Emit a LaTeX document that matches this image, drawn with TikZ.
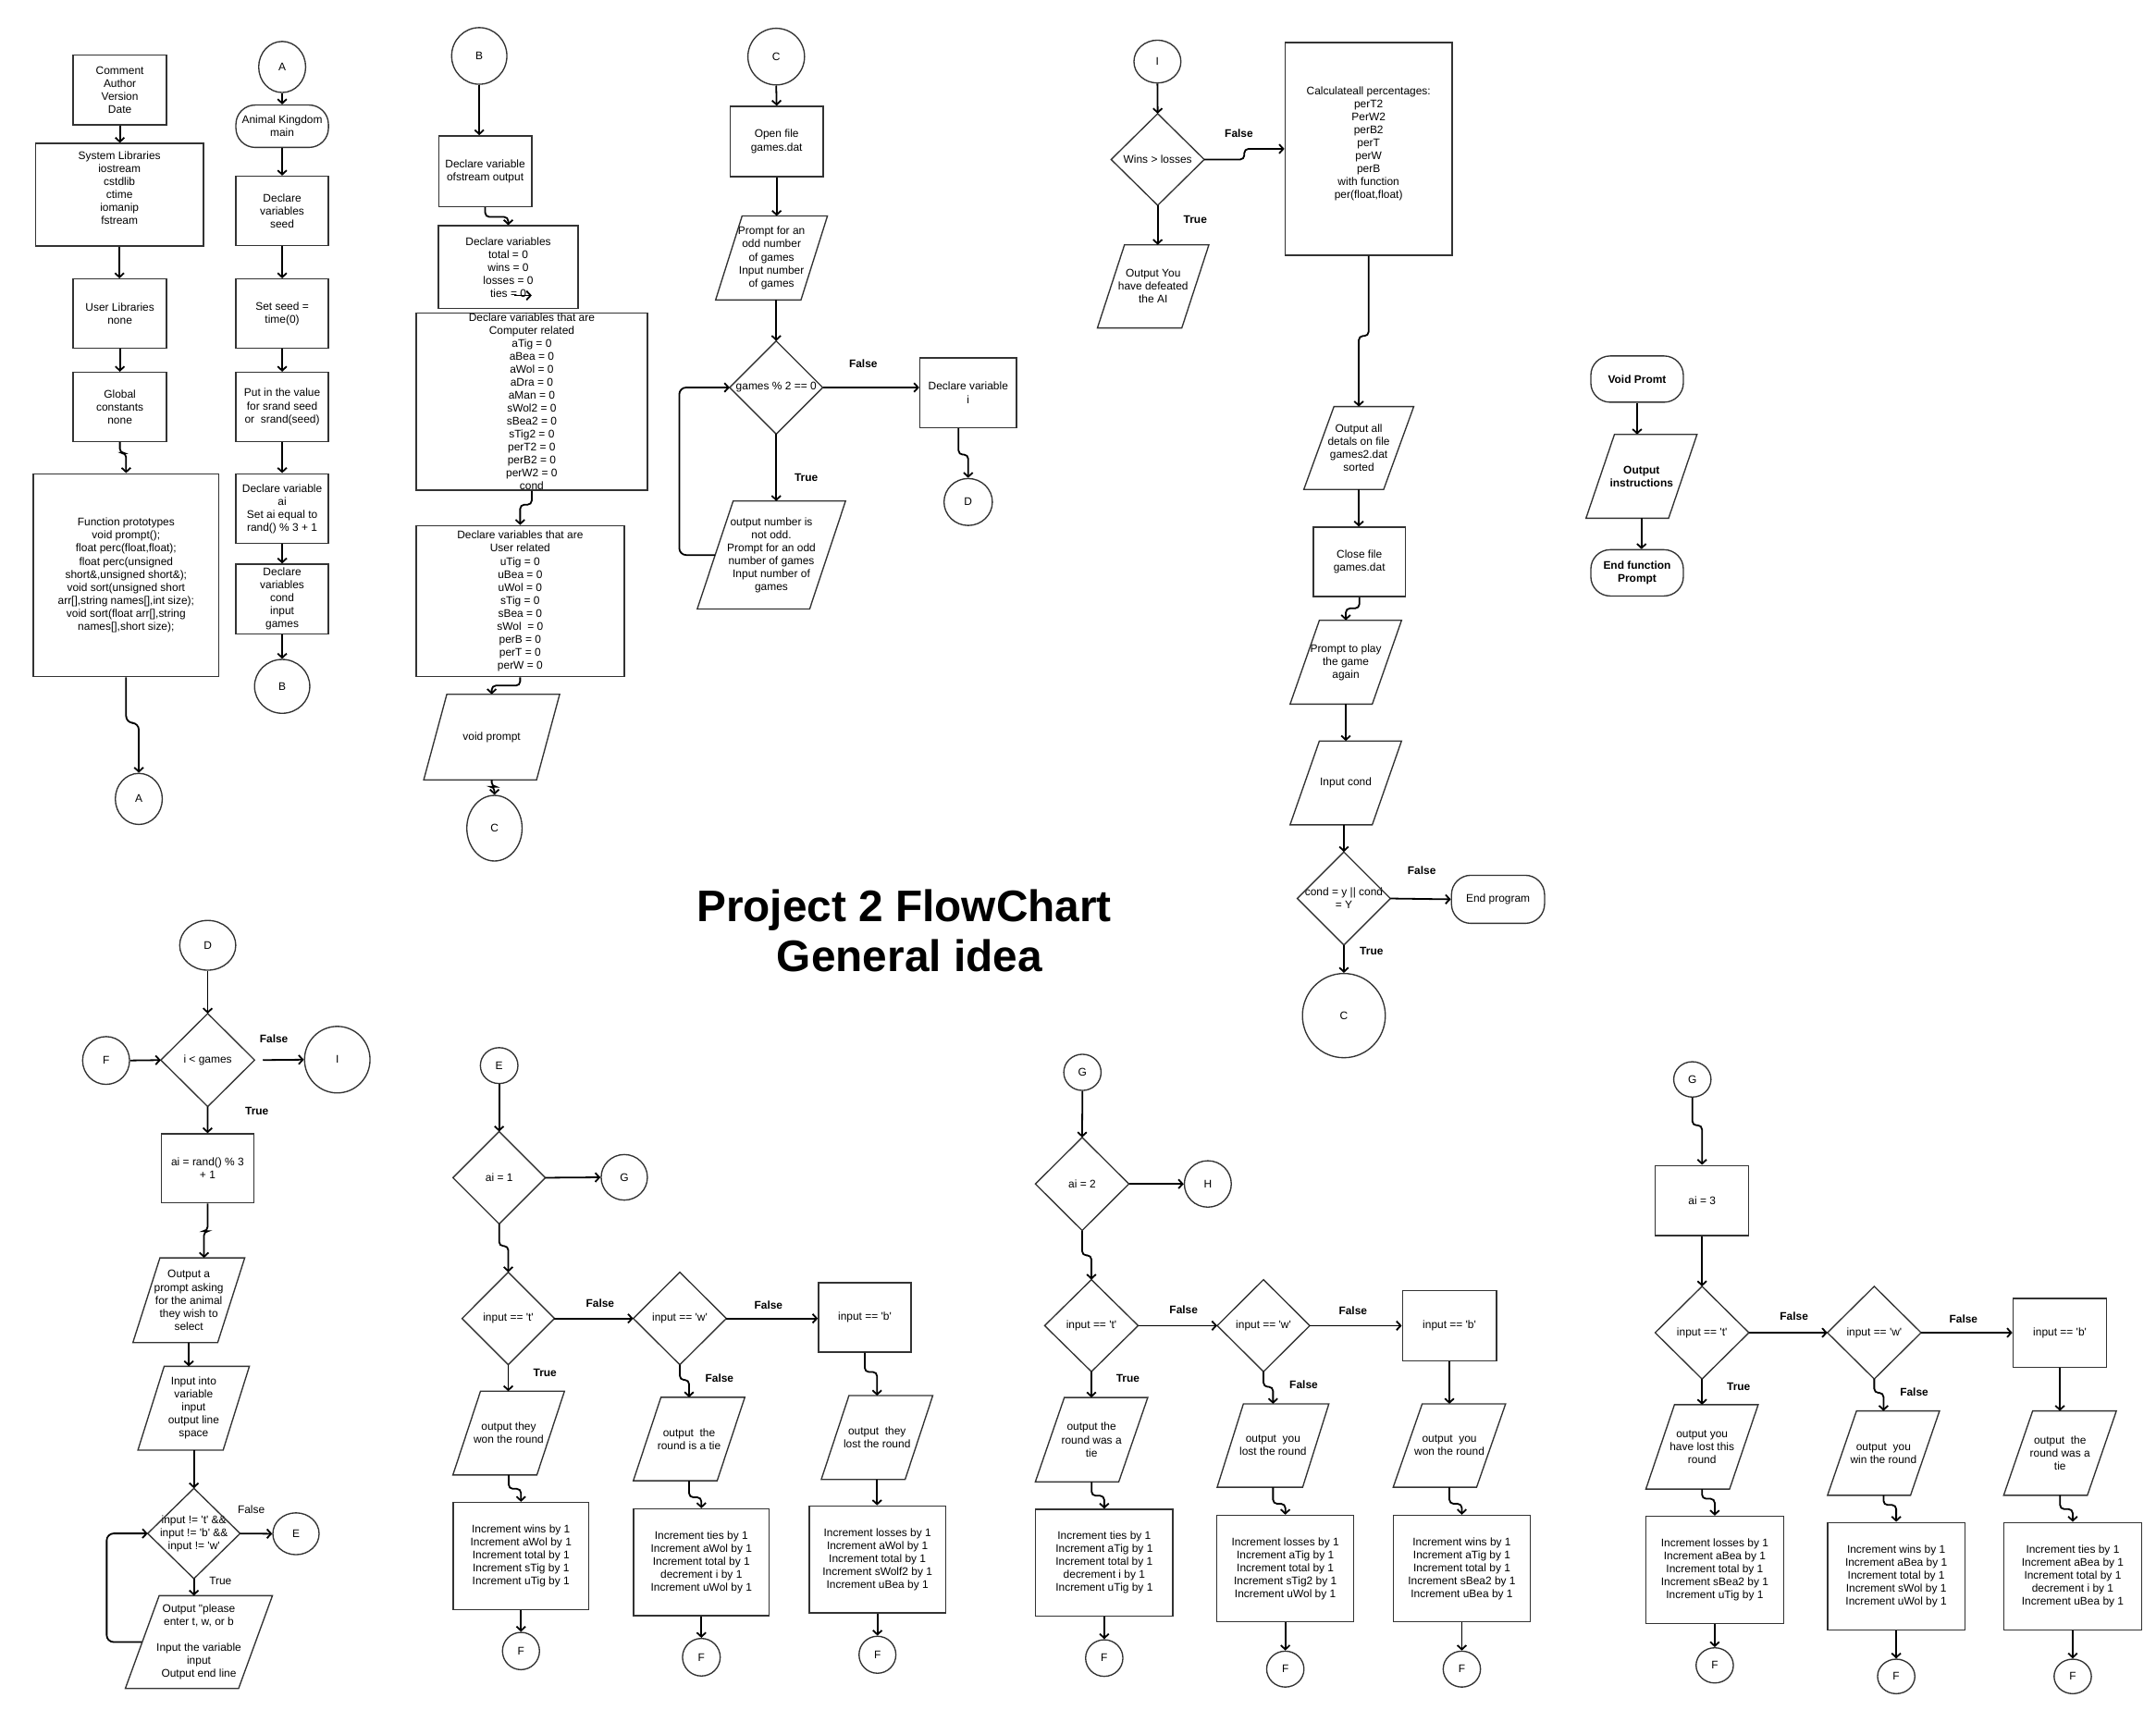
\documentclass[tikz,border=0pt]{standalone}
\usepackage{fontspec}
\setmainfont{Liberation Sans}
\usetikzlibrary{shapes.geometric,arrows.meta}
\definecolor{bordc}{HTML}{333333}
\newcommand\sq{\textquotesingle}
\newcommand\drawpara[2]{\draw[shapeline] ([xshift=#2]#1.north west) -- (#1.north east) -- ([xshift=-#2]#1.south east) -- (#1.south west) -- cycle;}
\newcommand\drawdia[1]{\draw[shapeline] (#1.north) -- (#1.east) -- (#1.south) -- (#1.west) -- cycle;}
\tikzset{
  txt/.style={font=\fontsize{8}{9.4}\selectfont, align=center, inner sep=0pt, text=black},
  shapeline/.style={draw=bordc, line width=0.9pt, line join=miter},
  box/.style={txt, rectangle, shapeline},
  term/.style={box, rounded corners=14pt},
  circ/.style={txt, ellipse, shapeline},
  ghost/.style={txt, rectangle},
  conn/.style={draw=black, line width=1.2pt, -{Straight Barb[length=3pt,width=6.5pt]}},
  wig/.style={conn, rounded corners=3pt},
  lab/.style={font=\fontsize{8}{9.4}\selectfont\bfseries, inner sep=0pt},
  labn/.style={font=\fontsize{8}{9.4}\selectfont, inner sep=0pt},
  bold/.style={font=\fontsize{8}{9.4}\selectfont\bfseries},
  sz/.style 2 args={minimum width=#1, minimum height=#2},
}
\begin{document}
\begin{tikzpicture}[x=1pt,y=-1pt]
\fill[white] (0,0) rectangle (1561,1238.2);
\useasboundingbox (0,0) rectangle (1561,1238.2);

% ---------- column 1
\node[box, sz={67.6}{50.4}] (com) at (86.8,65.1) {Comment\\Author\\Version\\Date};
\node[box, sz={121.6}{74.2}] (sys) at (86.5,141) {System Libraries\\iostream\\cstdlib\\ctime\\iomanip\\fstream\\\mbox{}};
\node[box, sz={67.6}{50}] (ulib) at (86.8,227) {User Libraries\\none};
\node[box, sz={67.6}{50}] (glob) at (86.8,294.6) {Global\\constants\\none};
\node[box, sz={134.4}{147}] (fpro) at (91.3,416.5) {Function prototypes\\void prompt();\\float perc(float,float);\\float perc(unsigned\\short\&,unsigned short\&);\\void sort(unsigned short\\arr[],string names[],int size);\\void sort(float arr[],string\\names[],short size);};
\node[circ, sz={34}{37}] (A1) at (100.5,578.5) {A};

% ---------- column 2
\node[circ, sz={34}{37}] (A2) at (204.3,48.5) {A};
\node[term, sz={67}{30.7}] (akm) at (204.3,91.4) {Animal Kingdom\\main};
\node[box, sz={67}{50.4}] (seed) at (204.3,152.8) {Declare\\variables\\seed};
\node[box, sz={67}{50}] (sseed) at (204.3,227) {Set seed =\\time(0)};
\node[box, sz={67}{50}] (srnd) at (204.3,294.6) {Put in the value\\for srand seed\\or\ \ srand(seed)};
\node[box, sz={67}{50.6}] (aid) at (204.3,368.3) {Declare variable\\ai\\Set ai equal to\\rand() \% 3 + 1};
\node[box, sz={67}{50.6}] (cdecl) at (204.3,433.8) {Declare\\variables\\cond\\input\\games};
\node[circ, sz={40}{39}] (B1) at (204.3,497) {B};

% ---------- column 3
\node[circ, sz={40}{41}] (B2) at (347,40.5) {B};
\node[box, sz={67.4}{51.3}] (ofs) at (351.3,124) {Declare variable\\ofstream output};
\node[box, sz={101}{60}] (tot) at (368,193.5) {Declare variables\\total = 0\\wins = 0\\losses = 0\\ties = 0};
\node[box, sz={167.5}{128.4}] (comp) at (385,290.8) {Declare variables that are\\Computer related\\aTig = 0\\aBea = 0\\aWol = 0\\aDra = 0\\aMan = 0\\sWol2 = 0\\sBea2 = 0\\sTig2 = 0\\perT2 = 0\\perB2 = 0\\perW2 = 0\\cond};
\node[box, sz={150.7}{109.4}] (usr) at (376.6,435.3) {Declare variables that are\\User related\\uTig = 0\\uBea = 0\\uWol = 0\\sTig = 0\\sBea = 0\\sWol\ \ = 0\\perB = 0\\perT = 0\\perW = 0};
\node[ghost, sz={98}{61.5}] (vp) at (356,533.7) {void prompt};
\node[circ, sz={40}{47.5}] (C1) at (358,599.7) {C};

% ---------- column 4
\node[circ, sz={41}{41}] (C2) at (562,41) {C};
\node[box, sz={67.4}{50.8}] (opn) at (562.3,102.4) {Open file\\games.dat};
\node[ghost, sz={80.6}{60.5}] (pr1) at (558.6,186.8) {Prompt for an\\odd number\\of games\\Input number\\of games};
\node[ghost, sz={67}{67}] (g2) at (562,280.6) {games \% 2 == 0};
\node[box, sz={70}{50.7}] (deci) at (701,284.4) {Declare variable\\i};
\node[circ, sz={35}{34}] (D1) at (701,363.5) {D};
\node[ghost, sz={107}{77.8}] (nodd) at (558.5,401.9) {output number is\\not odd.\\Prompt for an odd\\number of games\\Input number of\\games};
\node[lab] (l1) at (625,263) {False};
\node[lab] (l2) at (583.7,346) {True};

% ---------- column 5
\node[circ, sz={34}{31}] (I1) at (838,44.6) {I};
\node[ghost, sz={67}{66}] (wl) at (838.2,115.5) {Wins > losses};
\node[ghost, sz={80.3}{59.8}] (dfe) at (834.9,207.4) {Output You\\have defeated\\the AI};
\node[box, sz={121}{154}] (calc) at (990.9,107.8) {Calculateall percentages:\\perT2\\PerW2\\perB2\\perT\\perW\\perB\\with function\\per(float,float)\\\mbox{}};
\node[lab] (l3) at (897,96.6) {False};
\node[lab] (l4) at (865.4,159) {True};
\node[ghost, sz={79.2}{59.6}] (oall) at (983.8,324.4) {Output all\\detals on file\\games2.dat\\sorted};
\node[box, sz={66.4}{50.3}] (clo) at (984.2,406.9) {Close file\\games.dat};
\node[ghost, sz={80.3}{60.3}] (play) at (974.4,479.5) {Prompt to play\\the game\\again};
\node[ghost, sz={80.3}{60.3}] (inc) at (974.4,566.9) {Input cond};
\node[ghost, sz={67}{67}] (cnd) at (973,650.6) {cond = y || cond\\= Y};
\node[term, sz={67.4}{34.8}] (endp) at (1084.6,651.2) {End program};
\node[circ, sz={60}{61}] (C3) at (973,735.4) {C};
\node[lab] (l5) at (1029.4,630) {False};
\node[lab] (l6) at (993,688.7) {True};

% ---------- void prompt
\node[term, bold, sz={67}{33.5}] (vpr) at (1185.3,274.5) {Void Promt};
\node[ghost, bold, sz={80}{60.3}] (oins) at (1188.5,344.9) {Output\\instructions};
\node[term, bold, sz={67}{33.5}] (endf) at (1185.3,414.8) {End function\\Prompt};

% ---------- title
\node[anchor=base, inner sep=0pt, font=\fontsize{32}{36}\selectfont\bfseries] (t1) at (654.6,667.4) {Project 2 FlowChart};
\node[anchor=base, inner sep=0pt, font=\fontsize{32}{36}\selectfont\bfseries] (t2) at (658.5,703.2) {General idea};

% ---------- D section
\node[circ, sz={40.6}{36}] (D2) at (150.4,684.5) {D};
\node[ghost, sz={67.5}{67}] (ig) at (150.4,767.6) {i < games};
\node[circ, sz={34}{34.6}] (F0) at (76.8,767.9) {F};
\node[circ, sz={47.4}{48.2}] (I2) at (244.2,767.3) {I};
\node[lab] (l7) at (198.3,752.4) {False};
\node[lab] (l8) at (186,804.5) {True};
\node[box, sz={67.2}{50}] (aib) at (150.3,846) {ai = rand() \% 3\\+ 1};
\node[ghost, sz={80.6}{61}] (outp) at (136.7,941.5) {Output a\\prompt asking\\for the animal\\they wish to\\select};
\node[ghost, sz={80.3}{60.3}] (inp) at (140.2,1019.7) {Input into\\variable\\input\\output line\\space};
\node[ghost, sz={66.5}{65}] (neq) at (140.4,1110.4) {input != \sq t\sq\ \&\&\\input != \sq b\sq\ \&\&\\input != \sq w\sq};
\node[circ, sz={33.5}{30.3}] (E1) at (214.3,1110.6) {E};
\node[labn] (l9) at (181.9,1092.9) {False};
\node[labn] (l10) at (159.6,1144.6) {True};
\node[ghost, sz={106.1}{66.8}] (plz) at (144,1189) {Output \textquotedbl please\\enter t, w, or b\\\mbox{}\\Input the variable\\input\\Output end line};

% ---------- E section (ai = 1)
\node[circ, sz={27.2}{26}] (E2) at (361.4,771.6) {E};
\node[ghost, sz={66.5}{66.5}] (ai1) at (361.4,852.8) {ai = 1};
\node[circ, sz={33.5}{33}] (G1) at (452,852.5) {G};
\node[ghost, sz={66.5}{66.6}] (et) at (368,954.7) {input == \sq t\sq};
\node[ghost, sz={67}{66.6}] (ew) at (492.2,954.7) {input == \sq w\sq};
\node[box, sz={67}{50.2}] (eb) at (626.1,953.9) {input == \sq b\sq};
\node[ghost, sz={80.4}{60.3}] (ep1) at (368.3,1037.7) {output they\\won the round};
\node[ghost, sz={80.3}{60}] (ep2) at (498.9,1042) {output\ \ the\\round is a tie};
\node[ghost, sz={80.3}{60.3}] (ep3) at (635,1040.9) {output\ \ they\\lost the round};
\node[box, sz={98.3}{77.8}] (ei1) at (377.2,1126.8) {Increment wins by 1\\Increment aWol by 1\\Increment total by 1\\Increment sTig by 1\\Increment uTig by 1};
\node[box, sz={98.3}{77.3}] (ei2) at (507.8,1131.2) {Increment ties by 1\\Increment aWol by 1\\Increment total by 1\\decrement i by 1\\Increment uWol by 1};
\node[box, sz={98.6}{77.5}] (ei3) at (635.3,1129.2) {Increment losses by 1\\Increment aWol by 1\\Increment total by 1\\Increment sWolf2 by 1\\Increment uBea by 1};
\node[circ, sz={26.8}{27}] (eF1) at (377.2,1195.5) {F};
\node[circ, sz={27.3}{27.2}] (eF2) at (507.8,1200) {F};
\node[circ, sz={26.7}{26.8}] (eF3) at (635.3,1198.2) {F};
\node[lab] (l11) at (434.5,943.8) {False};
\node[lab] (l12) at (556.4,945) {False};
\node[lab] (l13) at (394.6,994.2) {True};
\node[lab] (l14) at (520.9,997.9) {False};

% ---------- G section (ai = 2)
\node[circ, sz={27}{26.2}] (Gc2) at (783.7,776.5) {G};
\node[ghost, sz={67.3}{67}] (ai2) at (783.5,857.3) {ai = 2};
\node[circ, sz={34}{33.6}] (H1) at (874.5,857.3) {H};
\node[ghost, sz={67.3}{66.2}] (gt) at (790.2,959.9) {input == \sq t\sq};
\node[ghost, sz={66.6}{66.2}] (gw) at (914.8,959.9) {input == \sq w\sq};
\node[box, sz={68.1}{50.9}] (gb) at (1049.4,959.9) {input == \sq b\sq};
\node[ghost, sz={81}{60.7}] (gp1) at (790.3,1042.5) {output the\\round was a\\tie};
\node[ghost, sz={80.5}{60}] (gp2) at (921.7,1046.7) {output\ \ you\\lost the round};
\node[ghost, sz={81}{60}] (gp3) at (1049.4,1046.7) {output\ \ you\\won the round};
\node[box, sz={99.3}{77.4}] (gi1) at (799.5,1131.6) {Increment ties by 1\\Increment aTig by 1\\Increment total by 1\\decrement i by 1\\Increment uTig by 1};
\node[box, sz={99}{77.1}] (gi2) at (930.6,1135.8) {Increment losses by 1\\Increment aTig by 1\\Increment total by 1\\Increment sTig2 by 1\\Increment uWol by 1};
\node[box, sz={99}{77.1}] (gi3) at (1058.4,1135.8) {Increment wins by 1\\Increment aTig by 1\\Increment total by 1\\Increment sBea2 by 1\\Increment uBea by 1};
\node[circ, sz={27}{26.5}] (gF1) at (799.5,1200.6) {F};
\node[circ, sz={27}{26}] (gF2) at (930.6,1208.6) {F};
\node[circ, sz={27}{26}] (gF3) at (1058.4,1208.6) {F};
\node[lab] (l15) at (857,948.1) {False};
\node[lab] (l16) at (979.6,949.3) {False};
\node[lab] (l17) at (816.6,998.4) {True};
\node[lab] (l18) at (943.9,1002.7) {False};

% ---------- G section (ai = 3)
\node[circ, sz={27}{25.6}] (Gc3) at (1225.3,781.6) {G};
\node[box, sz={67.5}{50.8}] (ai3) at (1232.3,869.3) {ai = 3};
\node[ghost, sz={67.5}{66.7}] (ht) at (1232.3,965) {input == \sq t\sq};
\node[ghost, sz={67.4}{66.7}] (hw) at (1357,965) {input == \sq w\sq};
\node[box, sz={67.9}{50.2}] (hb) at (1491.4,965.2) {input == \sq b\sq};
\node[ghost, sz={80.9}{60.7}] (hp1) at (1232.3,1047.7) {output you\\have lost this\\round};
\node[ghost, sz={80.7}{60.7}] (hp2) at (1363.7,1052.2) {output\ \ you\\win the round};
\node[ghost, sz={81.2}{60.7}] (hp3) at (1491.5,1052.2) {output\ \ the\\round was a\\tie};
\node[box, sz={99.5}{77.8}] (hi1) at (1241.5,1136.8) {Increment losses by 1\\Increment aBea by 1\\Increment total by 1\\Increment sBea2 by 1\\Increment uTig by 1};
\node[box, sz={99.2}{77.8}] (hi2) at (1372.9,1141.3) {Increment wins by 1\\Increment aBea by 1\\Increment total by 1\\Increment sWol by 1\\Increment uWol by 1};
\node[box, sz={99.7}{77.8}] (hi3) at (1500.7,1141.3) {Increment ties by 1\\Increment aBea by 1\\Increment total by 1\\decrement i by 1\\Increment uBea by 1};
\node[circ, sz={27}{25.5}] (hF1) at (1241.5,1205.9) {F};
\node[circ, sz={27}{25}] (hF2) at (1372.9,1213.9) {F};
\node[circ, sz={27}{25}] (hF3) at (1500.7,1213.9) {F};
\node[lab] (l19) at (1298.9,953.3) {False};
\node[lab] (l20) at (1421.6,954.8) {False};
\node[lab] (l21) at (1258.8,1003.8) {True};
\node[lab] (l22) at (1385.9,1008.3) {False};

% ---------- parallelograms and diamonds
\drawpara{vp}{16.7}
\drawpara{pr1}{19.2}
\drawpara{nodd}{26}
\drawpara{dfe}{19.6}
\drawpara{oall}{21.8}
\drawpara{play}{21.2}
\drawpara{inc}{21.2}
\drawpara{oins}{20.6}
\drawpara{outp}{19.6}
\drawpara{inp}{19}
\drawpara{plz}{24.5}
\drawpara{ep1}{20}
\drawpara{ep2}{20}
\drawpara{ep3}{20}
\drawpara{gp1}{21}
\drawpara{gp2}{19}
\drawpara{gp3}{21}
\drawpara{hp1}{20.7}
\drawpara{hp2}{21}
\drawpara{hp3}{21}
\drawdia{g2}
\drawdia{wl}
\drawdia{cnd}
\drawdia{ig}
\drawdia{neq}
\drawdia{ai1}
\drawdia{et}
\drawdia{ew}
\drawdia{ai2}
\drawdia{gt}
\drawdia{gw}
\drawdia{ht}
\drawdia{hw}

% ---------- connectors column 1
\draw[conn] (com.south) -- (com.south |- sys.north);
\draw[conn] (sys.south) -- (sys.south |- ulib.north);
\draw[conn] (ulib.south) -- (glob.north);
\draw[wig] (glob.south) -- ++(0,8) -| (fpro.north);
\draw[conn, rounded corners=5pt] (fpro.south) -- ++(0,33) -| (A1.north);
% column 2
\draw[conn] (A2.south) -- (akm.north);
\draw[conn] (akm.south) -- (seed.north);
\draw[conn] (seed.south) -- (sseed.north);
\draw[conn] (sseed.south) -- (srnd.north);
\draw[conn] (srnd.south) -- (aid.north);
\draw[conn] (aid.south) -- (cdecl.north);
\draw[conn] (cdecl.south) -- (B1.north);
% column 3
\draw[conn] (B2.south) -- (B2.south |- ofs.north);
\draw[wig] (ofs.south) -- ++(0,7) -| (tot.north);
\draw[conn] ([xshift=4,yshift=10]tot.south) -- ([xshift=17,yshift=10]tot.south);
\draw[wig] (comp.south) -- ++(0,10) -| (usr.north);
\draw[wig] (usr.south) -- ++(0,6) -| (vp.north);
\draw[wig] (vp.south) -- ++(0,5) -| (C1.north);
% column 4
\draw[conn] (C2.south) -- (opn.north);
\draw[conn] (opn.south) -- (opn.south |- pr1.north);
\draw[conn] (pr1.south -| g2.north) -- (g2.north);
\draw[conn] (g2.east) -- (g2.east -| deci.west);
\draw[conn] (g2.south) -- (g2.south |- nodd.north);
\draw[conn, rounded corners=5pt] ([xshift=13]nodd.west) -- ++(-26,0) |- (g2.west);
\draw[wig] ([xshift=-7]deci.south) -- ++(0,19) -| (D1.north);
% column 5
\draw[conn] (I1.south) -- (wl.north);
\draw[conn] (wl.south) -- (wl.south |- dfe.north);
\draw[wig] (wl.east) -- ++(29,0) |- (calc.west);
\draw[wig] (calc.south) -- ++(0,58) -| (oall.north);
\draw[conn] (oall.south) -- (oall.south |- clo.north);
\draw[wig] (clo.south) -- ++(0,8) -| (play.north);
\draw[conn] (play.south) -- (inc.north);
\draw[conn] (inc.south -| cnd.north) -- (cnd.north);
\draw[conn] (cnd.east) -- (endp.west);
\draw[conn] (cnd.south) -- (C3.north);
% void prompt
\draw[conn] (vpr.south) -- (vpr.south |- oins.north);
\draw[conn] (oins.south) -- (oins.south |- endf.north);
% D section
\draw[conn] (D2.south) -- (ig.north);
\draw[conn] (F0.east) -- (ig.west);
\draw[conn] ([xshift=6]ig.east) -- (I2.west);
\draw[conn] (ig.south) -- (aib.north);
\draw[wig] (aib.south) -- ++(0,20) -| ([xshift=11]outp.north);
\draw[conn] (outp.south) -- (outp.south |- inp.north);
\draw[conn] (inp.south -| neq.north) -- (neq.north);
\draw[conn] (neq.east) -- (E1.west);
\draw[conn] (neq.south) -- (neq.south |- plz.north);
\draw[conn, rounded corners=5pt] ([xshift=12]plz.west) -- ++(-25.5,0) |- (neq.west);
% E section
\draw[conn] (E2.south) -- (ai1.north);
\draw[conn] (ai1.east) -- (G1.west);
\draw[wig] (ai1.south) -- ++(0,16) -| (et.north);
\draw[conn] (et.east) -- (ew.west);
\draw[conn] (ew.east) -- (ew.east -| eb.west);
\draw[conn] (et.south) -- (et.south |- ep1.north);
\draw[wig] (ep1.south) -- ++(0,10) -| (ei1.north);
\draw[conn] (ei1.south) -- (eF1.north);
\draw[wig] (ew.south) -- ++(0,11) -| (ep2.north);
\draw[wig] (ep2.south) -- ++(0,12) -| (ei2.north);
\draw[conn] (ei2.south) -- (eF2.north);
\draw[wig] (eb.south) -- ++(0,14) -| (ep3.north);
\draw[conn] (ep3.south) -- (ep3.south |- ei3.north);
\draw[conn] (ei3.south) -- (eF3.north);
% G section ai=2
\draw[conn] (Gc2.south) -- (ai2.north);
\draw[conn] (ai2.east) -- (H1.west);
\draw[wig] (ai2.south) -- ++(0,18) -| (gt.north);
\draw[conn] (gt.east) -- (gw.west);
\draw[conn] (gw.east) -- (gb.west);
\draw[conn] (gt.south) -- (gt.south |- gp1.north);
\draw[wig] (gp1.south) -- ++(0,10) -| (gi1.north);
\draw[conn] (gi1.south) -- (gF1.north);
\draw[wig] (gw.south) -- ++(0,11) -| (gp2.north);
\draw[wig] (gp2.south) -- ++(0,12) -| (gi2.north);
\draw[conn] (gi2.south) -- (gF2.north);
\draw[conn] (gb.south) -- (gb.south |- gp3.north);
\draw[wig] (gp3.south) -- ++(0,12) -| (gi3.north);
\draw[conn] (gi3.south) -- (gF3.north);
% G section ai=3
\draw[wig] (Gc3.south) -- ++(0,20) -| (ai3.north);
\draw[conn] (ai3.south) -- (ht.north);
\draw[conn] (ht.east) -- (hw.west);
\draw[conn] (hw.east) -- (hw.east -| hb.west);
\draw[conn] (ht.south) -- (ht.south |- hp1.north);
\draw[wig] (hp1.south) -- ++(0,7) -| (hi1.north);
\draw[conn] (hi1.south) -- (hF1.north);
\draw[wig] (hw.south) -- ++(0,10) -| (hp2.north);
\draw[wig] (hp2.south) -- ++(0,7) -| (hi2.north);
\draw[conn] (hi2.south) -- (hF2.north);
\draw[conn] (hb.south) -- (hb.south |- hp3.north);
\draw[wig] (hp3.south) -- ++(0,10) -| (hi3.north);
\draw[conn] (hi3.south) -- (hF3.north);
\end{tikzpicture}
\end{document}
